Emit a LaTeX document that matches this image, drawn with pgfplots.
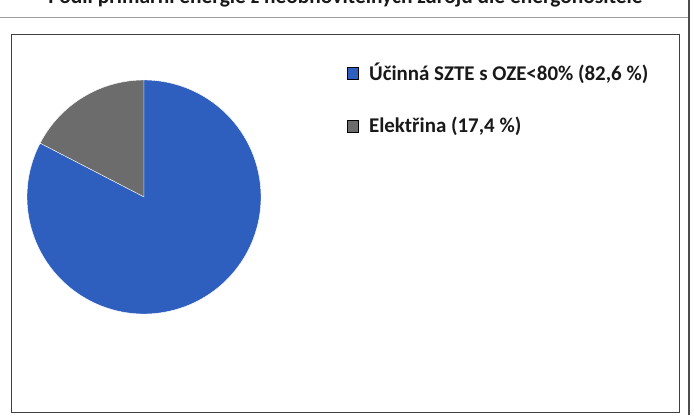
\documentclass[border=0pt]{standalone}
\usepackage{pgfplots}
\usepackage{pgfplotstable}
\pgfplotsset{compat=1.18}
\usepackage{fontspec}
\setmainfont{Carlito}
\definecolor{pieblue}{RGB}{46,94,190}
\definecolor{piegray}{RGB}{108,108,108}
\definecolor{txt}{RGB}{25,25,25}
\pgfplotstableread{
name share
A 82.6
B 17.4
}\piedata
\begin{document}
\begin{tikzpicture}[x=1bp,y=1bp]
\useasboundingbox (0,0) rectangle (694,415);
\clip (0,0) rectangle (694,415);
\fill[white] (0,0) rectangle (694,415);
% title (cut off at the top as in the scan)
\node[anchor=base, inner sep=0pt, font=\bfseries\fontsize{21.5}{25}\selectfont, text=txt] at (345.5,411) {Podíl primární energie z neobnovitelných zdrojů dle energonositele};
% frames
\draw[gray!75, line width=0.9bp] (0,398) -- (689,398);
\draw[black!75, line width=0.9bp] (11,3) rectangle (679,381);
\draw[black!70, line width=2.4bp] (689,0) -- (689,415);
\pgfplotstablegetelem{1}{share}\of\piedata \let\shareB\pgfplotsretval
\begin{axis}[
  at={(144bp,218bp)}, anchor=origin,
  width=234bp, height=234bp, scale only axis,
  xmin=-1, xmax=1, ymin=-1, ymax=1,
  hide axis, clip=false,
  legend style={at={(axis cs:1.735,1.145)}, anchor=north west, draw=none, fill=none,
    font=\bfseries\fontsize{21}{25}\selectfont, text=txt,
    nodes={inner sep=0pt}, column sep=11bp, row sep=35bp, inner sep=0pt},
  legend cell align=left,
  legend image code/.code={\fill[#1] (0bp,-6bp) rectangle (10.5bp,5.5bp);},
]
\pgfmathsetmacro{\angB}{90+3.6*\shareB}
\fill[piegray, draw=white, line width=0.4bp] (axis cs:0,0) -- (axis cs:0,1) arc[start angle=90, end angle=\angB, radius=1] -- cycle;
\fill[pieblue, draw=white, line width=0.4bp] (axis cs:0,0) -- ({cos(\angB)},{sin(\angB)}) arc[start angle=\angB, end angle=450, radius=1] -- cycle;
\addlegendimage{fill=pieblue}
\addlegendentry{Účinná SZTE s OZE<80\% (82,6 \%)}
\addlegendimage{fill=piegray}
\addlegendentry{Elektřina (17,4 \%)}
\end{axis}
\end{tikzpicture}
\end{document}
